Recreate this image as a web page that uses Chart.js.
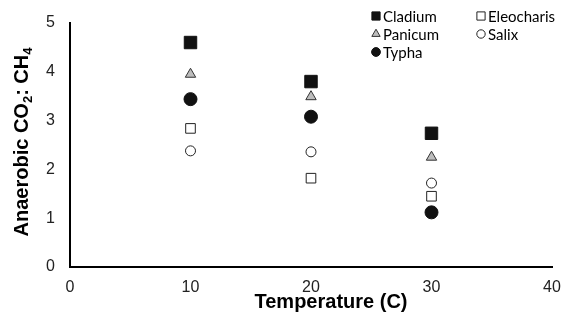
<!DOCTYPE html>
<html><head><meta charset="utf-8">
<script src="https://cdn.jsdelivr.net/npm/chart.js@4/dist/chart.umd.min.js"></script>
<style>html,body{margin:0;padding:0;background:#fff}#wrap{width:568px;height:328px}</style>
</head><body><div id="wrap"><canvas id="c" width="568" height="328"></canvas></div>
<script>
const temperatures = [10, 20, 30];
const cladium = [4.60, 3.80, 2.74];
const panicum = [3.95, 3.49, 2.25];
const typha = [3.44, 3.08, 1.12];
const eleocharis = [2.84, 1.82, 1.45];
const salix = [2.38, 2.36, 1.72];
const xTicks = [0, 10, 20, 30, 40];
const yTicks = [0, 1, 2, 3, 4, 5];
const xTitle = 'Temperature (C)';
const yTitleParts = [['Anaerobic CO', false], ['2', true], [': CH', false], ['4', true]];

const pts = arr => arr.map((v, i) => ({x: temperatures[i], y: v}));

const datasets = [
  {label: 'Cladium', data: pts(cladium), pointStyle: 'rect', pointRadius: 8.8, backgroundColor: '#111', borderColor: '#111', borderWidth: 1, legendRadius: 5.8},
  {label: 'Eleocharis', data: pts(eleocharis), pointStyle: 'rect', pointRadius: 6.8, backgroundColor: '#fff', borderColor: '#222', borderWidth: 1, legendRadius: 5.8},
  {label: 'Panicum', data: pts(panicum), pointStyle: 'triangle', pointRadius: 6.0, backgroundColor: '#bdbdbd', borderColor: '#333', borderWidth: 1, legendRadius: 4.8},
  {label: 'Salix', data: pts(salix), pointStyle: 'circle', pointRadius: 5.0, backgroundColor: '#fff', borderColor: '#222', borderWidth: 1, legendRadius: 4.2},
  {label: 'Typha', data: pts(typha), pointStyle: 'circle', pointRadius: 6.5, backgroundColor: '#111', borderColor: '#111', borderWidth: 1, legendRadius: 4.4}
];

const legendLayout = [
  {label: 'Cladium', x: 376, y: 16},
  {label: 'Panicum', x: 376, y: 34},
  {label: 'Typha', x: 376, y: 52},
  {label: 'Eleocharis', x: 481, y: 16},
  {label: 'Salix', x: 481, y: 34}
];

const customDraw = {
  id: 'customDraw',
  afterDraw(chart) {
    const ctx = chart.ctx;
    ctx.save();
    ctx.font = '15px Lato';
    ctx.textBaseline = 'middle';
    legendLayout.forEach(item => {
      const ds = chart.data.datasets.find(d => d.label === item.label);
      ctx.fillStyle = ds.backgroundColor;
      ctx.strokeStyle = ds.borderColor;
      ctx.lineWidth = 1;
      Chart.helpers.drawPoint(ctx, {pointStyle: ds.pointStyle, radius: ds.legendRadius, rotation: 0, borderWidth: 1}, item.x, item.y);
      ctx.fillStyle = '#000';
      ctx.textAlign = 'left';
      ctx.fillText(item.label, item.x + 7, item.y + 1);
    });
    ctx.font = 'bold 20px "Liberation Sans", Arial, sans-serif';
    ctx.fillStyle = '#000';
    ctx.textAlign = 'center';
    ctx.textBaseline = 'alphabetic';
    ctx.fillText(xTitle, 331, 308);
    ctx.translate(28, 142);
    ctx.rotate(-Math.PI / 2);
    const big = 'bold 20px "Liberation Sans", Arial, sans-serif';
    const small = 'bold 13px "Liberation Sans", Arial, sans-serif';
    let total = 0;
    yTitleParts.forEach(([t, sub]) => { ctx.font = sub ? small : big; total += ctx.measureText(t).width; });
    let x = -total / 2;
    ctx.textAlign = 'left';
    yTitleParts.forEach(([t, sub]) => {
      ctx.font = sub ? small : big;
      ctx.fillText(t, x, sub ? 4 : 0);
      x += ctx.measureText(t).width;
    });
    ctx.restore();
  }
};

new Chart(document.getElementById('c'), {
  type: 'scatter',
  data: {datasets},
  options: {
    responsive: false,
    animation: false,
    layout: {padding: {left: 0, right: 16, top: 23, bottom: 0}},
    plugins: {legend: {display: false}, tooltip: {enabled: false}},
    scales: {
      x: {
        type: 'linear', min: 0, max: 40,
        afterBuildTicks: s => { s.ticks = xTicks.map(v => ({value: v})); },
        afterFit: s => { s.height = 61; },
        grid: {display: false, drawTicks: true, tickLength: 5, tickColor: '#666'},
        border: {display: true, color: '#000', width: 2},
        ticks: {color: '#222', font: {size: 16, family: '"Liberation Sans", Arial, sans-serif'}, padding: 6, maxRotation: 0}
      },
      y: {
        type: 'linear', min: 0, max: 5,
        afterBuildTicks: s => { s.ticks = yTicks.map(v => ({value: v})); },
        afterFit: s => { s.width = 70; },
        grid: {display: false, drawTicks: true, tickLength: 5, tickColor: '#666'},
        border: {display: true, color: '#000', width: 2},
        ticks: {color: '#222', font: {size: 16, family: '"Liberation Sans", Arial, sans-serif'}, padding: 10}
      }
    }
  },
  plugins: [customDraw]
});
</script>
</body></html>
